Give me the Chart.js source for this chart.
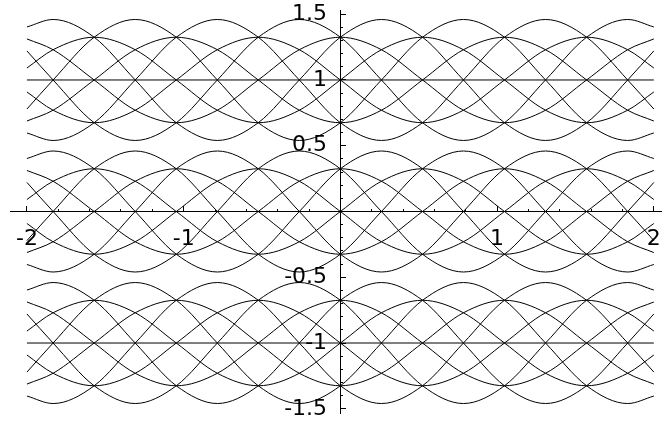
<!DOCTYPE html>
<html>
<head>
<meta charset="utf-8">
<script src="https://cdn.jsdelivr.net/npm/chart.js@4.4.1/dist/chart.umd.min.js"></script>
<style>
html,body{margin:0;padding:0;background:#fff;}
#wrap{width:662px;height:421px;position:relative;}
</style>
</head>
<body>
<div id="wrap"><canvas id="c" width="662" height="421"></canvas></div>
<script>
// x positions where the curves were read (crossing points every ~0.262, plus the ends)
const xs = [-2, -1.833, -1.571, -1.309, -1.047, -0.785, -0.524, -0.262, 0, 0.262, 0.524, 0.785, 1.047, 1.309, 1.571, 1.833, 2];

// centre of each band of curves
const bandCenters = [1, 0, -1];

// steep curves (offset from band centre)
const steepA = [0.403, 0.46, 0.325, 0, -0.325, -0.46, -0.325, 0, 0.325, 0.46, 0.325, 0, -0.325, -0.46, -0.325, 0, 0.221];
const steepB = [-0.221, 0, 0.325, 0.46, 0.325, 0, -0.325, -0.46, -0.325, 0, 0.325, 0.46, 0.325, 0, -0.325, -0.46, -0.403];
const steepC = [-0.403, -0.46, -0.325, 0, 0.325, 0.46, 0.325, 0, -0.325, -0.46, -0.325, 0, 0.325, 0.46, 0.325, 0, -0.221];
const steepD = [0.221, 0, -0.325, -0.46, -0.325, 0, 0.325, 0.46, 0.325, 0, -0.325, -0.46, -0.325, 0, 0.325, 0.46, 0.403];

// shallow curves (offset from band centre)
const shallowA = [0.312, 0.23, 0, -0.23, -0.325, -0.23, 0, 0.23, 0.325, 0.23, 0, -0.23, -0.325, -0.23, 0, 0.23, 0.312];
const shallowB = [0.091, 0.23, 0.325, 0.23, 0, -0.23, -0.325, -0.23, 0, 0.23, 0.325, 0.23, 0, -0.23, -0.325, -0.23, -0.091];
const shallowC = [-0.312, -0.23, 0, 0.23, 0.325, 0.23, 0, -0.23, -0.325, -0.23, 0, 0.23, 0.325, 0.23, 0, -0.23, -0.312];
const shallowD = [-0.091, -0.23, -0.325, -0.23, 0, 0.23, 0.325, 0.23, 0, -0.23, -0.325, -0.23, 0, 0.23, 0.325, 0.23, 0.091];

const profiles = [steepA, steepB, steepC, steepD, shallowA, shallowB, shallowC, shallowD];

// axis ticks
const xMajorTicks = [-2, -1, 1, 2];
const xMajorLabels = ['-2', '-1', '1', '2'];
const xMinorTicks = [-1.8, -1.6, -1.4, -1.2, -0.8, -0.6, -0.4, -0.2, 0.2, 0.4, 0.6, 0.8, 1.2, 1.4, 1.6, 1.8];
const yMajorTicks = [-1.5, -1, -0.5, 0.5, 1, 1.5];
const yMajorLabels = ['-1.5', '-1', '-0.5', '0.5', '1', '1.5'];
const yMinorTicks = [-1.4, -1.3, -1.2, -1.1, -0.9, -0.8, -0.7, -0.6, -0.4, -0.3, -0.2, -0.1,
                     0.1, 0.2, 0.3, 0.4, 0.6, 0.7, 0.8, 0.9, 1.1, 1.2, 1.3, 1.4];

const datasets = [];
bandCenters.forEach(c => {
  datasets.push({
    data: [{x: xs[0], y: c}, {x: xs[xs.length - 1], y: c}],
    borderColor: '#000', borderWidth: 1, pointRadius: 0, tension: 0
  });
  profiles.forEach(p => {
    datasets.push({
      data: xs.map((x, i) => ({x: x, y: c + p[i]})),
      borderColor: '#000', borderWidth: 1, pointRadius: 0,
      cubicInterpolationMode: 'monotone'
    });
  });
});

const zeroPad = s => { s.paddingTop = 0; s.paddingBottom = 0; s.paddingLeft = 0; s.paddingRight = 0; };
const font = {family: 'DejaVu Sans', size: 22};
const X_MIN = -2.108, X_MAX = 2.052, Y_MIN = -1.532, Y_MAX = 1.532;
const Y_LABEL_X = -0.085; // y tick labels sit just left of the y axis

new Chart(document.getElementById('c'), {
  type: 'line',
  data: {datasets: datasets},
  options: {
    responsive: false,
    animation: false,
    events: [],
    devicePixelRatio: 1,
    layout: {padding: {left: 10, right: 0, top: 10, bottom: 8}},
    plugins: {legend: {display: false}, tooltip: {enabled: false}, title: {display: false}},
    scales: {
      x: {
        type: 'linear', axis: 'x', position: {y: 0}, min: X_MIN, max: X_MAX,
        afterBuildTicks: s => { s.ticks = xMajorTicks.map(v => ({value: v})); },
        afterFit: zeroPad,
        ticks: {autoSkip: false, maxRotation: 0, minRotation: 0, padding: 21, color: '#000', font: font,
                callback: v => xMajorLabels[xMajorTicks.indexOf(v)]},
        grid: {drawOnChartArea: false, drawTicks: true, tickLength: -6, color: '#000', lineWidth: 1},
        border: {display: true, color: '#000', width: 1}
      },
      x2: {
        type: 'linear', axis: 'x', position: {y: 0}, min: X_MIN, max: X_MAX,
        afterBuildTicks: s => { s.ticks = xMinorTicks.map(v => ({value: v})); },
        afterFit: zeroPad,
        ticks: {display: false, autoSkip: false},
        grid: {drawOnChartArea: false, drawTicks: true, tickLength: -3, color: '#000', lineWidth: 1},
        border: {display: false}
      },
      y: {
        type: 'linear', axis: 'y', position: {x: 0}, min: Y_MIN, max: Y_MAX,
        afterBuildTicks: s => { s.ticks = yMajorTicks.map(v => ({value: v})); },
        afterFit: zeroPad,
        ticks: {display: false, autoSkip: false},
        grid: {drawOnChartArea: false, drawTicks: true, tickLength: -6, color: '#000', lineWidth: 1},
        border: {display: true, color: '#000', width: 1}
      },
      y2: {
        type: 'linear', axis: 'y', position: {x: 0}, min: Y_MIN, max: Y_MAX,
        afterBuildTicks: s => { s.ticks = yMinorTicks.map(v => ({value: v})); },
        afterFit: zeroPad,
        ticks: {display: false, autoSkip: false},
        grid: {drawOnChartArea: false, drawTicks: true, tickLength: -3, color: '#000', lineWidth: 1},
        border: {display: false}
      },
      yl: {
        type: 'linear', axis: 'y', position: {x: Y_LABEL_X}, min: Y_MIN, max: Y_MAX,
        afterBuildTicks: s => { s.ticks = yMajorTicks.map(v => ({value: v})); },
        afterFit: zeroPad,
        ticks: {autoSkip: false, padding: 0, color: '#000', font: font,
                callback: v => yMajorLabels[yMajorTicks.indexOf(v)]},
        grid: {display: false, drawOnChartArea: false, drawTicks: false},
        border: {display: false}
      }
    }
  }
});
</script>
</body>
</html>
